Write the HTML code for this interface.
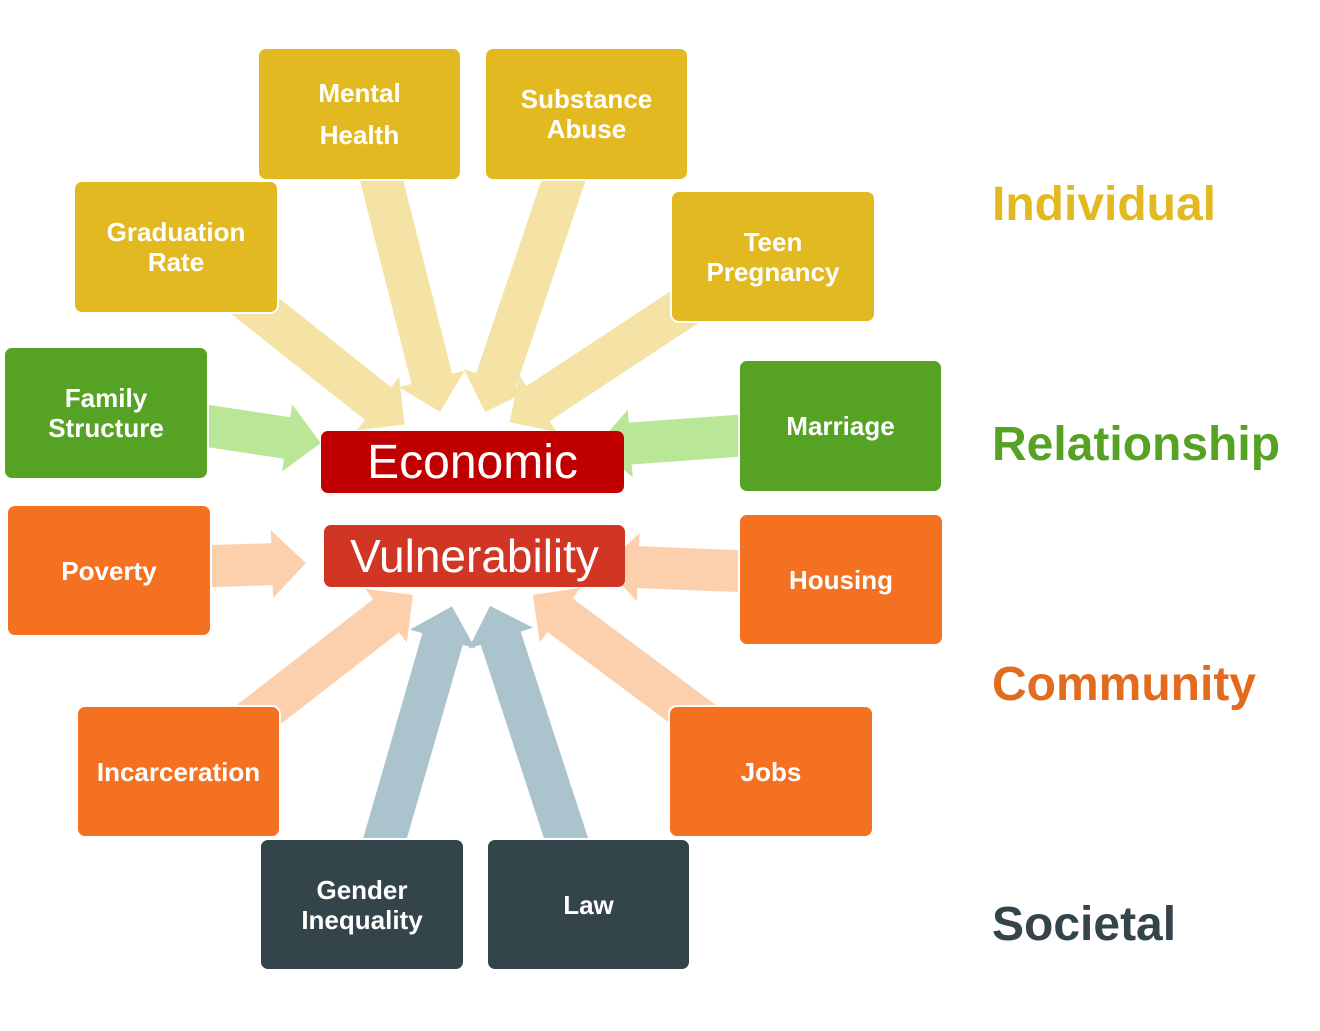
<!DOCTYPE html>
<html><head><meta charset="utf-8"><style>
body{margin:0;width:1320px;height:1031px;background:#fff;position:relative;overflow:hidden;font-family:"Liberation Sans",sans-serif}
.b{position:absolute;box-sizing:border-box;border:2px solid #fff;border-radius:9px;display:flex;align-items:center;justify-content:center;text-align:center;color:#fff;font-weight:bold;font-size:26px;line-height:30px}
.y{background:#e3b921}.g{background:#56a224}.o{background:#f47121}.d{background:#33444b}
.c{position:absolute;border-radius:7px;color:#fff;display:flex;align-items:center;justify-content:center;font-size:48px}
.l{position:absolute;font-weight:bold;font-size:48px;left:992px}
</style></head><body>
<svg width="1320" height="1031" style="position:absolute;left:0;top:0">
<g fill="#f5e3a6">
<polygon transform="translate(255,306) rotate(38.4)" points="-40,-21 157,-21 157,-34 191,0 157,34 157,21 -40,21"/>
<polygon transform="translate(382,182) rotate(75.8)" points="-40,-21 203,-21 203,-34 237,0 203,34 203,21 -40,21"/>
<polygon transform="translate(563,182) rotate(108.7)" points="-40,-21 209,-21 209,-34 243,0 209,34 209,21 -40,21"/>
<polygon transform="translate(680,310) rotate(146.6)" points="-40,-21 170,-21 170,-34 204,0 170,34 170,21 -40,21"/>
</g>
<g fill="#b9e797">
<polygon transform="translate(208,426) rotate(8.6)" points="-40,-21 80,-21 80,-34 114,0 80,34 80,21 -40,21"/>
<polygon transform="translate(735,436) rotate(175.9)" points="-40,-21 105,-21 105,-34 139,0 105,34 105,21 -40,21"/>
</g>
<g fill="#fdd0ad">
<polygon transform="translate(213,566) rotate(-1.8)" points="-40,-21 59,-21 59,-34 93,0 59,34 59,21 -40,21"/>
<polygon transform="translate(737,571) rotate(182.2)" points="-40,-21 99,-21 99,-34 133,0 99,34 99,21 -40,21"/>
<polygon transform="translate(262,712) rotate(-37.8)" points="-40,-21 157,-21 157,-34 191,0 157,34 157,21 -40,21"/>
<polygon transform="translate(690,712) rotate(-143.3)" points="-40,-21 162,-21 162,-34 196,0 162,34 162,21 -40,21"/>
</g>
<g fill="#aac3cc">
<polygon transform="translate(386,835) rotate(-73.9)" points="-40,-21 204,-21 204,-34 238,0 204,34 204,21 -40,21"/>
<polygon transform="translate(565,835) rotate(-108.1)" points="-40,-21 207,-21 207,-34 241,0 207,34 207,21 -40,21"/>
</g>
</svg>
<div class="b y" style="left:257px;top:47px;width:205px;height:134px;line-height:42px">Mental<br>Health</div>
<div class="b y" style="left:484px;top:47px;width:205px;height:134px">Substance<br>Abuse</div>
<div class="b y" style="left:73px;top:180px;width:206px;height:134px">Graduation<br>Rate</div>
<div class="b y" style="left:670px;top:190px;width:206px;height:133px">Teen<br>Pregnancy</div>
<div class="b g" style="left:3px;top:346px;width:206px;height:134px">Family<br>Structure</div>
<div class="b g" style="left:738px;top:359px;width:205px;height:134px">Marriage</div>
<div class="b o" style="left:6px;top:504px;width:206px;height:133px">Poverty</div>
<div class="b o" style="left:738px;top:513px;width:206px;height:133px">Housing</div>
<div class="b o" style="left:76px;top:705px;width:205px;height:133px">Incarceration</div>
<div class="b o" style="left:668px;top:705px;width:206px;height:133px">Jobs</div>
<div class="b d" style="left:259px;top:838px;width:206px;height:133px">Gender<br>Inequality</div>
<div class="b d" style="left:486px;top:838px;width:205px;height:133px">Law</div>
<div class="c" style="left:321px;top:431px;width:303px;height:62px;background:#c00000">Economic</div>
<div class="c" style="left:324px;top:525px;width:301px;height:62px;background:#d13523;font-size:46px">Vulnerability</div>
<div class="l" style="top:177px;color:#e3b921">Individual</div>
<div class="l" style="top:417px;color:#56a224">Relationship</div>
<div class="l" style="top:657px;color:#e26b1d">Community</div>
<div class="l" style="top:897px;color:#33444b">Societal</div>
</body></html>
